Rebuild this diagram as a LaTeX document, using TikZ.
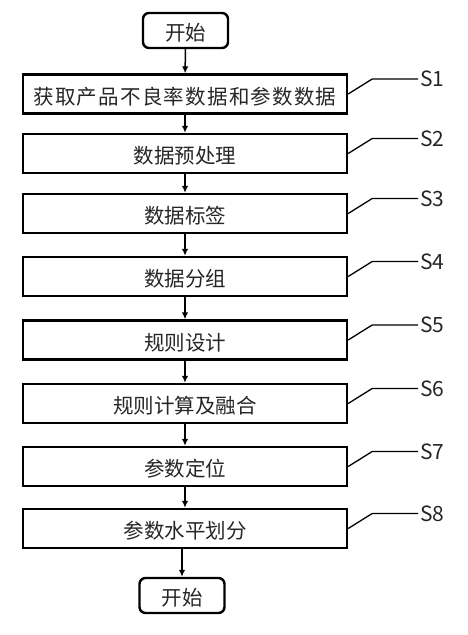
\documentclass[tikz,border=0pt]{standalone}
\usepackage{fontspec}
\setmainfont{Noto Sans CJK SC}
\usetikzlibrary{arrows.meta}

\begin{document}
\begin{tikzpicture}[x=1pt, y=-1pt,
    stepbox/.style={draw, line width=2.4pt, minimum width=324pt, minimum height=39pt, inner sep=0pt, text height=21pt, text depth=0.5pt, text=black!85, font=\fontsize{20.5}{22}\selectfont},
    endbox/.style={draw, line width=2.4pt, rounded corners=6pt, minimum width=85pt, minimum height=35pt, inner sep=0pt, text height=21pt, text depth=0.5pt, text=black!85, font=\fontsize{20.5}{22}\selectfont},
    flow/.style={-{Latex[length=7pt,width=6.5pt]}, line width=1.5pt},
    lead/.style={line width=1.3pt},
    steplbl/.style={anchor=west, inner sep=2pt, text=black!85, font=\fontsize{21}{23}\selectfont}]
    \useasboundingbox (0,0) rectangle (468,635);

    % Start and end
    \node[endbox] (start) at (185.5,30.5) {开始};
    \node[endbox] (stop) at (182,595.5) {开始};

    % Steps
    \node[stepbox] (s1) at (185,94) {\addfontfeatures{LetterSpace=6}获取产品不良率数据和参数数据};
    \node[stepbox] (s2) at (185,153.5) {数据预处理};
    \node[stepbox] (s3) at (185,213.5) {数据标签};
    \node[stepbox] (s4) at (185,276.5) {数据分组};
    \node[stepbox] (s5) at (185,340) {规则设计};
    \node[stepbox] (s6) at (185,403.5) {规则计算及融合};
    \node[stepbox] (s7) at (185,466.5) {参数定位};
    \node[stepbox] (s8) at (185,528.5) {参数水平划分};

    % Step labels
    \node[steplbl] (l1) at (418,79) {S1};
    \node[steplbl] (l2) at (418,138.5) {S2};
    \node[steplbl] (l3) at (418,198.5) {S3};
    \node[steplbl] (l4) at (418,261.5) {S4};
    \node[steplbl] (l5) at (418,325) {S5};
    \node[steplbl] (l6) at (418,388.5) {S6};
    \node[steplbl] (l7) at (418,451.5) {S7};
    \node[steplbl] (l8) at (418,513.5) {S8};

    % Leaders
    \draw[lead] (s1.east) -- ++(24,-15) -- (l1.west);
    \draw[lead] (s2.east) -- ++(24,-15) -- (l2.west);
    \draw[lead] (s3.east) -- ++(24,-15) -- (l3.west);
    \draw[lead] (s4.east) -- ++(24,-15) -- (l4.west);
    \draw[lead] (s5.east) -- ++(24,-15) -- (l5.west);
    \draw[lead] (s6.east) -- ++(24,-15) -- (l6.west);
    \draw[lead] (s7.east) -- ++(24,-15) -- (l7.west);
    \draw[lead] (s8.east) -- ++(24,-15) -- (l8.west);

    % Arrows
    \draw[flow] (start) -- (s1);
    \draw[flow] (s1) -- (s2);
    \draw[flow] (s2) -- (s3);
    \draw[flow] (s3) -- (s4);
    \draw[flow] (s4) -- (s5);
    \draw[flow] (s5) -- (s6);
    \draw[flow] (s6) -- (s7);
    \draw[flow] (s7) -- (s8);
    \draw[flow] (s8.south -| stop.north) -- (stop);
\end{tikzpicture}
\end{document}
